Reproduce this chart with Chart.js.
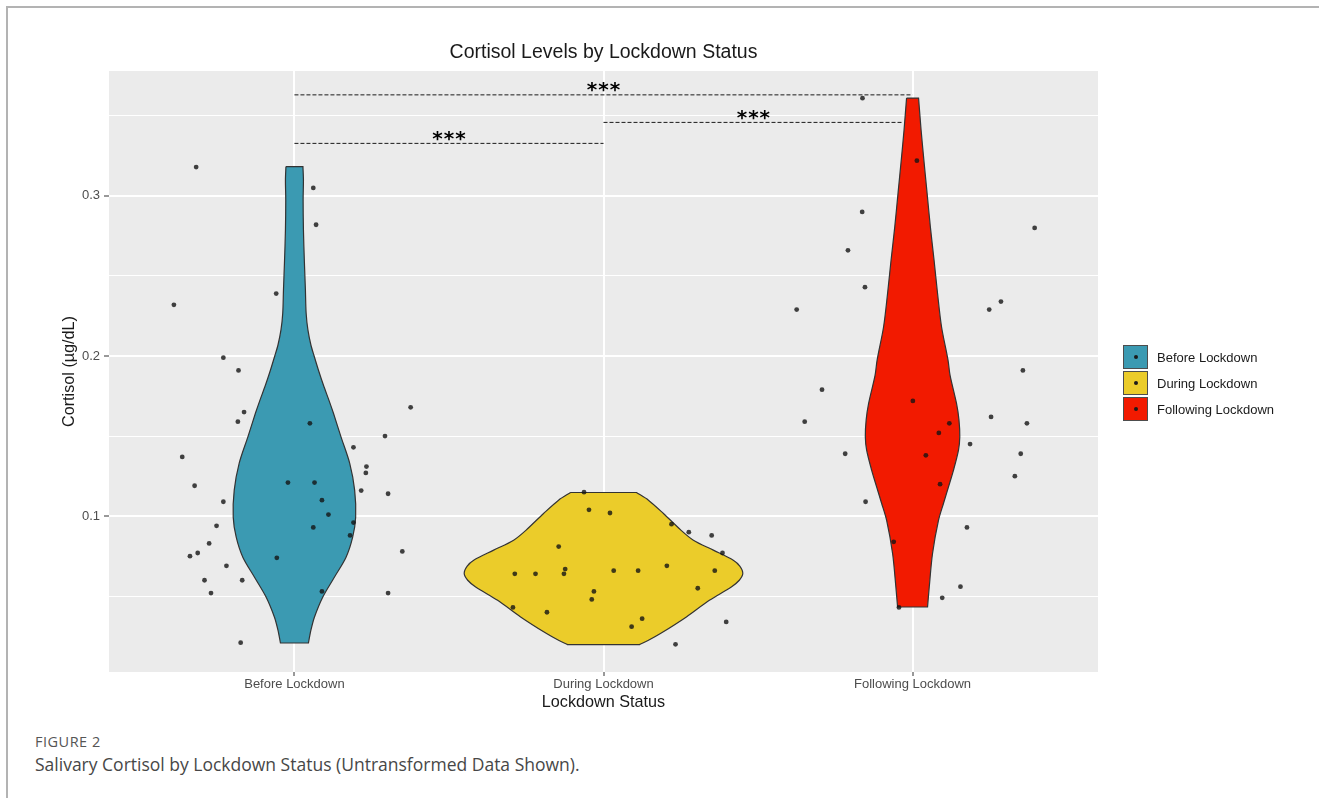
<!DOCTYPE html>
<html>
<head>
<meta charset="utf-8">
<script src="https://cdn.jsdelivr.net/npm/chart.js@4.4.1/dist/chart.umd.min.js"></script>
<style>
  html, body { margin: 0; padding: 0; background: #fff; }
  body { width: 1319px; height: 798px; position: relative; overflow: hidden; font-family: 'Liberation Sans', Arial, sans-serif; }
  .frame { position: absolute; left: 6px; top: 6px; width: 1330px; height: 810px; border-top: 2px solid #b3b3b3; border-left: 2px solid #b3b3b3; }
  .chart-box { position: absolute; left: 0; top: 0; width: 1319px; height: 720px; }
  .legend { position: absolute; left: 1123px; top: 344px; }
  .legend-row { display: flex; align-items: center; height: 26px; }
  .legend-key { width: 25px; height: 24px; box-sizing: border-box; border: 1px solid #4d4d4d; position: relative; }
  .legend-key::after { content: ''; position: absolute; left: 50%; top: 50%; width: 4px; height: 4px; margin: -2px 0 0 -2px; border-radius: 50%; background: #1a1a1a; }
  .legend-label { margin-left: 9px; font-size: 13px; color: #1a1a1a; }
  .caption-label { position: absolute; left: 35px; top: 733px; font: 14.5px/17px 'Open Sans', sans-serif; letter-spacing: 0.5px; color: #555; }
  .caption-text { position: absolute; left: 35px; top: 753px; font: 17.5px/22px 'Open Sans', sans-serif; color: #474747; }
</style>
</head>
<body>
<div class="frame"></div>
<div class="chart-box"><canvas id="chart"></canvas></div>
<div class="legend" id="legend"></div>
<div class="caption-label">FIGURE 2</div>
<div class="caption-text">Salivary Cortisol by Lockdown Status (Untransformed Data Shown).</div>
<script>
// Catégories et couleurs (palette Zissou)
const CATEGORIES = ['Before Lockdown', 'During Lockdown', 'Following Lockdown']
const COLORS = ['#3B9AB2', '#EBCC2A', '#F21A00']

// Graduations de l'axe Y
const Y_MAJOR = [0.1, 0.2, 0.3]
const Y_MINOR = [0.05, 0.15, 0.25, 0.35]

// Points individuels (position x avec jitter, valeur de cortisol)
const BEFORE_X = [0.682, 1.061, 1.070, 0.941, 0.610, 0.770, 0.819, 0.837, 0.817, 1.050, 1.376, 1.293, 1.191, 0.637, 1.233, 1.231, 0.677, 0.979, 1.065, 1.216, 1.303, 1.089, 0.770, 1.110, 1.191, 0.748, 1.061, 1.180, 0.724, 1.349, 0.687, 0.662, 0.943, 0.780, 0.709, 0.831, 0.730, 1.089, 1.303, 0.826]
const BEFORE_Y = [0.318, 0.305, 0.282, 0.239, 0.232, 0.199, 0.191, 0.165, 0.159, 0.158, 0.168, 0.150, 0.143, 0.137, 0.131, 0.127, 0.119, 0.121, 0.121, 0.116, 0.114, 0.110, 0.109, 0.101, 0.096, 0.094, 0.093, 0.088, 0.083, 0.078, 0.077, 0.075, 0.074, 0.069, 0.060, 0.060, 0.052, 0.053, 0.052, 0.021]

const DURING_X = [1.937, 1.953, 2.021, 2.220, 2.276, 2.350, 2.385, 1.855, 1.876, 1.872, 1.713, 1.780, 2.033, 2.112, 2.205, 2.360, 2.305, 1.969, 1.962, 1.707, 1.817, 2.125, 2.091, 2.397, 2.233]
const DURING_Y = [0.115, 0.104, 0.102, 0.095, 0.090, 0.088, 0.077, 0.081, 0.067, 0.064, 0.064, 0.064, 0.066, 0.066, 0.069, 0.066, 0.055, 0.053, 0.048, 0.043, 0.040, 0.036, 0.031, 0.034, 0.020]

const FOLLOWING_X = [2.838, 3.014, 2.837, 2.791, 2.846, 2.625, 3.395, 3.286, 3.248, 3.357, 2.707, 3.001, 2.651, 3.254, 3.370, 3.119, 3.085, 3.186, 2.782, 3.350, 3.043, 3.331, 3.089, 2.848, 3.176, 2.939, 3.155, 3.096, 2.956]
const FOLLOWING_Y = [0.361, 0.322, 0.290, 0.266, 0.243, 0.229, 0.280, 0.234, 0.229, 0.191, 0.179, 0.172, 0.159, 0.162, 0.158, 0.158, 0.152, 0.145, 0.139, 0.139, 0.138, 0.125, 0.120, 0.109, 0.093, 0.084, 0.056, 0.049, 0.043]

// Contours des violons : niveau y et demi-largeur (en unités de catégorie)
const VIOLIN_BEFORE_Y = [0.3183, 0.310, 0.2975, 0.2788, 0.2581, 0.2413, 0.2269, 0.2163, 0.2069, 0.200, 0.1913, 0.1819, 0.1725, 0.1644, 0.1494, 0.1331, 0.1163, 0.0994, 0.0869, 0.0744, 0.0619, 0.0494, 0.0369, 0.0288, 0.0208]
const VIOLIN_BEFORE_W = [0.0275, 0.0291, 0.0281, 0.0291, 0.0323, 0.0355, 0.0378, 0.0436, 0.0533, 0.0637, 0.0775, 0.0937, 0.1115, 0.1260, 0.1509, 0.1787, 0.1948, 0.1981, 0.1884, 0.1670, 0.1292, 0.0914, 0.0646, 0.0533, 0.0452]

const VIOLIN_DURING_Y = [0.1148, 0.110, 0.1017, 0.0913, 0.085, 0.0788, 0.0725, 0.0688, 0.0642, 0.060, 0.0558, 0.0475, 0.0371, 0.0267, 0.0225, 0.0198]
const VIOLIN_DURING_W = [0.1066, 0.1454, 0.1939, 0.2504, 0.2908, 0.3554, 0.4200, 0.4410, 0.4507, 0.4394, 0.4136, 0.3425, 0.2682, 0.1842, 0.1454, 0.1163]

const VIOLIN_FOLLOWING_Y = [0.3611, 0.3413, 0.3225, 0.3019, 0.2808, 0.260, 0.2392, 0.2183, 0.1975, 0.1881, 0.1704, 0.160, 0.1496, 0.1413, 0.1288, 0.1183, 0.1081, 0.0975, 0.0767, 0.0558, 0.0433]
const VIOLIN_FOLLOWING_W = [0.0194, 0.0275, 0.0365, 0.0469, 0.0575, 0.0695, 0.0808, 0.0937, 0.1147, 0.1212, 0.1422, 0.1502, 0.1528, 0.1486, 0.1325, 0.1163, 0.1002, 0.0840, 0.0646, 0.0540, 0.0485]

// Comparaisons significatives (crochets pointillés)
const BRACKET_FROM = [1, 2, 1]
const BRACKET_TO = [2, 2.97, 3]
const BRACKET_Y = [0.3328, 0.3459, 0.3631]
const BRACKET_LABELS = ['***', '***', '***']

const FONT = "'Liberation Sans', Arial, sans-serif"

const isMajor = (val) => Y_MAJOR.some((m) => Math.abs(m - val) < 1e-9)

// Fond gris du panneau + titre + étoiles
const ggPanelPlugin = {
  id: 'ggPanel',
  beforeDraw(chart, args, opts) {
    const { ctx, chartArea: a } = chart
    ctx.save()
    ctx.fillStyle = opts.background
    ctx.fillRect(a.left, a.top, a.right - a.left, a.bottom - a.top)
    ctx.restore()
  },
  afterDatasetsDraw(chart, args, opts) {
    const { ctx, chartArea: a, scales } = chart
    ctx.save()
    ctx.fillStyle = '#1a1a1a'
    ctx.textAlign = 'center'
    ctx.textBaseline = 'middle'
    ctx.font = `19.5px ${FONT}`
    ctx.fillText(opts.title, (a.left + a.right) / 2, a.top - 18)

    ctx.fillStyle = '#000000'
    ctx.font = "bold 20px 'DejaVu Sans', sans-serif"
    ctx.letterSpacing = '1px'
    ctx.textBaseline = 'alphabetic'
    BRACKET_FROM.forEach((from, i) => {
      const cx = scales.x.getPixelForValue((from + BRACKET_TO[i]) / 2)
      const cy = scales.y.getPixelForValue(BRACKET_Y[i])
      ctx.fillText(BRACKET_LABELS[i], cx + 0.5, cy + 1.5)
    })
    ctx.restore()
  }
}

function makeViolin(center, ys, widths, color) {
  const left = ys.map((y, i) => ({ x: center - widths[i], y }))
  const right = ys.map((y, i) => ({ x: center + widths[i], y })).reverse()
  // Coins doublés pour garder les bords haut/bas bien plats malgré la tension
  const data = [
    ...left,
    left[left.length - 1],
    right[0],
    ...right,
    right[right.length - 1],
    left[0]
  ]
  return {
    data,
    showLine: true,
    fill: 'shape',
    backgroundColor: color,
    borderColor: '#333333',
    borderWidth: 1.2,
    tension: 0.3,
    pointRadius: 0,
    pointHoverRadius: 0
  }
}

function makePoints(xs, ys) {
  return {
    data: xs.map((x, i) => ({ x, y: ys[i] })),
    backgroundColor: 'rgba(20, 20, 20, 0.8)',
    borderWidth: 0,
    pointRadius: 2.4,
    pointHoverRadius: 2.4
  }
}

function makeBrackets() {
  return BRACKET_FROM.map((from, i) => ({
    data: [
      { x: from, y: BRACKET_Y[i] },
      { x: BRACKET_TO[i], y: BRACKET_Y[i] }
    ],
    showLine: true,
    borderColor: '#1a1a1a',
    borderWidth: 1,
    borderDash: [4, 2],
    pointRadius: 0,
    fill: false
  }))
}

function makeLegend() {
  const container = document.getElementById('legend')
  container.innerHTML = CATEGORIES.map((label, i) => `
    <div class="legend-row">
      <span class="legend-key" style="background:${COLORS[i]}"></span>
      <span class="legend-label">${label}</span>
    </div>`).join('')
}

// Le premier dataset est dessiné au-dessus
const datasets = [
  makePoints(BEFORE_X, BEFORE_Y),
  makePoints(DURING_X, DURING_Y),
  makePoints(FOLLOWING_X, FOLLOWING_Y),
  makeViolin(1, VIOLIN_BEFORE_Y, VIOLIN_BEFORE_W, COLORS[0]),
  makeViolin(2, VIOLIN_DURING_Y, VIOLIN_DURING_W, COLORS[1]),
  makeViolin(3, VIOLIN_FOLLOWING_Y, VIOLIN_FOLLOWING_W, COLORS[2]),
  ...makeBrackets()
]

new Chart(document.getElementById('chart'), {
  type: 'scatter',
  data: { datasets },
  plugins: [ggPanelPlugin],
  options: {
    responsive: true,
    maintainAspectRatio: false,
    animation: false,
    events: [],
    layout: {
      padding: { left: 0, right: 221, top: 71, bottom: 0 }
    },
    plugins: {
      legend: { display: false },
      tooltip: { enabled: false },
      ggPanel: {
        background: '#EBEBEB',
        title: 'Cortisol Levels by Lockdown Status'
      }
    },
    scales: {
      x: {
        type: 'linear',
        min: 0.4,
        max: 3.6,
        afterBuildTicks: (scale) => {
          scale.ticks = CATEGORIES.map((_, i) => ({ value: i + 1 }))
        },
        afterFit: (scale) => {
          scale.height = 48
        },
        border: { display: false },
        grid: {
          color: '#ffffff',
          lineWidth: 2,
          tickColor: '#333333',
          tickWidth: 1,
          tickLength: 4
        },
        ticks: {
          autoSkip: false,
          maxRotation: 0,
          padding: 1,
          color: '#4d4d4d',
          font: { family: FONT, size: 13 },
          callback: (val) => CATEGORIES[val - 1]
        },
        title: {
          display: true,
          text: 'Lockdown Status',
          color: '#1a1a1a',
          font: { family: FONT, size: 16.2 },
          padding: { top: 0, bottom: 8 }
        }
      },
      y: {
        type: 'linear',
        min: 0.0027,
        max: 0.378,
        afterBuildTicks: (scale) => {
          scale.ticks = [...Y_MAJOR, ...Y_MINOR].sort((a, b) => a - b).map((value) => ({ value }))
        },
        afterFit: (scale) => {
          scale.width = 109
        },
        border: { display: false },
        grid: {
          color: '#ffffff',
          lineWidth: (c) => (c.tick && isMajor(c.tick.value) ? 2 : 1.1),
          tickColor: (c) => (c.tick && isMajor(c.tick.value) ? '#333333' : 'rgba(0,0,0,0)'),
          tickWidth: 1,
          tickLength: 5
        },
        ticks: {
          autoSkip: false,
          padding: 4,
          color: '#4d4d4d',
          font: { family: FONT, size: 13 },
          callback: (val) => (isMajor(val) ? val.toFixed(1) : '')
        },
        title: {
          display: true,
          text: 'Cortisol (µg/dL)',
          color: '#1a1a1a',
          font: { family: FONT, size: 16.2 },
          padding: { top: 60, bottom: 0 }
        }
      }
    }
  }
})

makeLegend()
</script>
</body>
</html>
